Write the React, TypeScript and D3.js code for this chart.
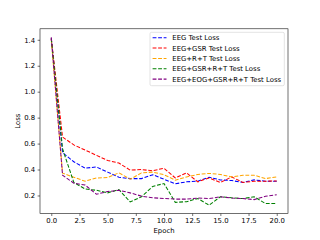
import React, { useEffect, useRef } from "react";
import * as d3 from "d3";

const epochs = [0, 1, 2, 3, 4, 5, 6, 7, 8, 9, 10, 11, 12, 13, 14, 15, 16, 17, 18, 19, 20];

const eegLoss = [1.41, 0.53, 0.46, 0.41, 0.42, 0.38, 0.34, 0.33, 0.33, 0.36, 0.325, 0.29, 0.305, 0.31, 0.34, 0.32, 0.315, 0.3, 0.32, 0.31, 0.31];
const eegGsrLoss = [1.41, 0.65, 0.59, 0.55, 0.51, 0.47, 0.45, 0.395, 0.4, 0.39, 0.41, 0.335, 0.374, 0.305, 0.335, 0.3, 0.343, 0.3, 0.31, 0.31, 0.312];
const eegRtLoss = [1.4, 0.372, 0.34, 0.31, 0.335, 0.338, 0.375, 0.325, 0.374, 0.38, 0.36, 0.318, 0.343, 0.362, 0.37, 0.362, 0.343, 0.356, 0.356, 0.33, 0.343];
const eegGsrRtLoss = [1.41, 0.56, 0.3, 0.25, 0.24, 0.22, 0.245, 0.15, 0.19, 0.27, 0.292, 0.147, 0.152, 0.177, 0.125, 0.19, 0.182, 0.176, 0.19, 0.138, 0.139];
const eegEogGsrRtLoss = [1.42, 0.356, 0.295, 0.28, 0.21, 0.23, 0.24, 0.22, 0.195, 0.182, 0.177, 0.172, 0.172, 0.18, 0.176, 0.19, 0.18, 0.176, 0.168, 0.194, 0.206];

const seriesNames = [
  "EEG Test Loss",
  "EEG+GSR Test Loss",
  "EEG+R+T Test Loss",
  "EEG+GSR+R+T Test Loss",
  "EEG+EOG+GSR+R+T Test Loss",
];
const seriesColors = ["blue", "red", "orange", "green", "purple"];
const xTicks = [0, 2.5, 5, 7.5, 10, 12.5, 15, 17.5, 20];
const yTicks = [0.2, 0.4, 0.6, 0.8, 1.0, 1.2, 1.4];

const App: React.FC = () => {
  const svgRef = useRef<SVGSVGElement | null>(null);
  const width = 320;
  const height = 240;

  useEffect(() => {
    if (!svgRef.current) return;
    const svg = d3.select(svgRef.current);
    svg.selectAll("*").remove();

    const margin = { top: 28.8, right: 32, bottom: 26.4, left: 40 };
    const innerWidth = width - margin.left - margin.right;
    const innerHeight = height - margin.top - margin.bottom;
    const font = "'DejaVu Sans', sans-serif";

    const allSeries = [eegLoss, eegGsrLoss, eegRtLoss, eegGsrRtLoss, eegEogGsrRtLoss];
    const yMin = d3.min(allSeries, (s) => d3.min(s)) || 0;
    const yMax = d3.max(allSeries, (s) => d3.max(s)) || 0;
    const pad = (yMax - yMin) * 0.05;

    const xScale = d3.scaleLinear().domain([-1, 21]).range([0, innerWidth]);
    const yScale = d3
      .scaleLinear()
      .domain([yMin - pad, yMax + pad])
      .range([innerHeight, 0]);

    svg.append("rect").attr("width", width).attr("height", height).attr("fill", "white");

    const g = svg
      .append("g")
      .attr("transform", `translate(${margin.left},${margin.top})`);

    // lines
    const line = d3
      .line<number>()
      .x((_, i) => xScale(epochs[i]))
      .y((d) => yScale(d));

    allSeries.forEach((s, i) => {
      g.append("path")
        .datum(s)
        .attr("fill", "none")
        .attr("stroke", seriesColors[i])
        .attr("stroke-width", 1.05)
        .attr("stroke-dasharray", "3.85,1.67")
        .attr("d", line);
    });

    // x axis
    const xAxis = d3
      .axisBottom(xScale)
      .tickValues(xTicks)
      .tickFormat(d3.format(".1f"))
      .tickSize(2.4)
      .tickPadding(2.4);
    const gx = g
      .append("g")
      .attr("transform", `translate(0,${innerHeight})`)
      .call(xAxis);
    gx.select(".domain").remove();
    gx.selectAll("line").attr("stroke", "black").attr("stroke-width", 0.56);
    gx.selectAll("text")
      .attr("font-family", font)
      .attr("font-size", 6.9)
      .attr("fill", "black");

    // y axis
    const yAxis = d3
      .axisLeft(yScale)
      .tickValues(yTicks)
      .tickFormat(d3.format(".1f"))
      .tickSize(2.4)
      .tickPadding(2.4);
    const gy = g.append("g").call(yAxis);
    gy.select(".domain").remove();
    gy.selectAll("line").attr("stroke", "black").attr("stroke-width", 0.56);
    gy.selectAll("text")
      .attr("font-family", font)
      .attr("font-size", 6.9)
      .attr("fill", "black");

    // frame
    g.append("rect")
      .attr("width", innerWidth)
      .attr("height", innerHeight)
      .attr("fill", "none")
      .attr("stroke", "black")
      .attr("stroke-width", 0.56);

    // axis labels
    svg
      .append("text")
      .attr("x", margin.left + innerWidth / 2)
      .attr("y", 233)
      .attr("text-anchor", "middle")
      .attr("font-family", font)
      .attr("font-size", 6.9)
      .text("Epoch");

    svg
      .append("text")
      .attr("transform", `translate(20,${margin.top + innerHeight / 2}) rotate(-90)`)
      .attr("text-anchor", "middle")
      .attr("font-family", font)
      .attr("font-size", 6.9)
      .text("Loss");

    // legend
    const legend = svg.append("g").attr("transform", "translate(150,32.3)");
    legend
      .append("rect")
      .attr("width", 134.3)
      .attr("height", 53.4)
      .attr("rx", 1.5)
      .attr("fill", "white")
      .attr("fill-opacity", 0.8)
      .attr("stroke", "#cccccc")
      .attr("stroke-width", 0.56);

    seriesNames.forEach((name, i) => {
      const yy = 5.4 + i * 10.35;
      legend
        .append("line")
        .attr("x1", 2.6)
        .attr("x2", 16.5)
        .attr("y1", yy)
        .attr("y2", yy)
        .attr("stroke", seriesColors[i])
        .attr("stroke-width", 1.05)
        .attr("stroke-dasharray", "3.85,1.67");
      legend
        .append("text")
        .attr("x", 22.3)
        .attr("y", yy + 2.5)
        .attr("font-family", font)
        .attr("font-size", 6.9)
        .text(name);
    });
  }, []);

  return (
    <div style={{ position: "absolute", left: 0, top: 0 }}>
      <svg ref={svgRef} width={width} height={height} style={{ display: "block" }}></svg>
    </div>
  );
};

export default App;
